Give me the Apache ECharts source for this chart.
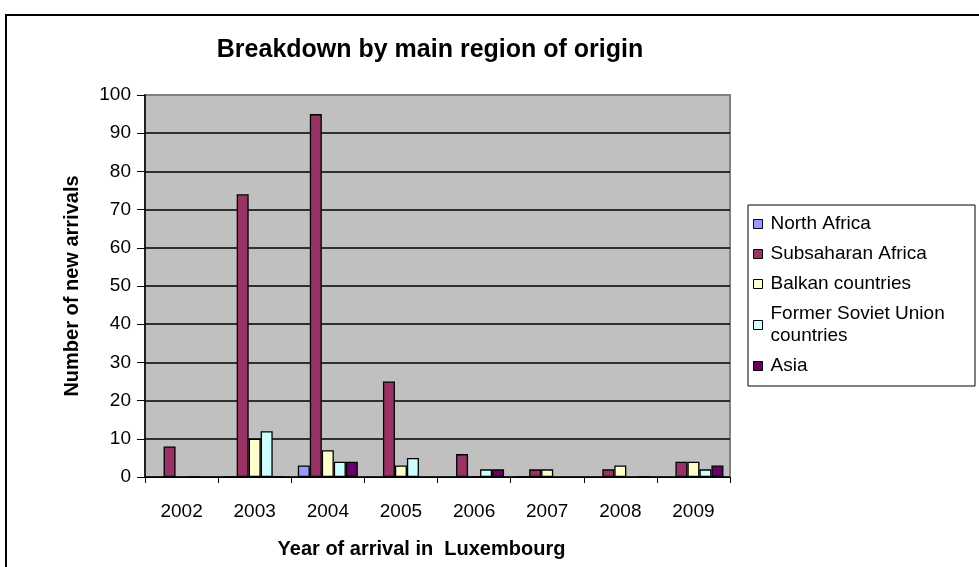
<!DOCTYPE html>
<html>
<head>
<meta charset="utf-8">
<script src="https://cdn.jsdelivr.net/npm/echarts@6/dist/echarts.min.js"></script>
<style>
  html, body { margin: 0; padding: 0; background: #fff; }
  #chart { width: 979px; height: 567px; }
</style>
</head>
<body>
<div id="chart"></div>
<script>
// years on the x axis
var years = ['2002', '2003', '2004', '2005', '2006', '2007', '2008', '2009'];
// null = no bar, 0 = flat bar (drawn as a line)
var northAfrica   = [null, 0, 3, null, null, 0, null, null];
var subsaharan    = [8, 74, 95, 25, 6, 2, 2, 4];
var balkan        = [null, 10, 7, 3, 0, 2, 3, 4];
var formerSoviet  = [0, 12, 4, 5, 2, null, null, 2];
var asia          = [null, 0, 4, null, 2, null, 0, 3];

var seriesNames = ['North Africa', 'Subsaharan Africa', 'Balkan countries', 'Former Soviet Union\ncountries', 'Asia'];
var seriesData = [northAfrica, subsaharan, balkan, formerSoviet, asia];
var colors = ['#9999FF', '#993366', '#FFFFCC', '#CCFFFF', '#660066'];

var font = 'Arial, "Liberation Sans", sans-serif';

var chart = echarts.init(document.getElementById('chart'));

var series = seriesNames.map(function (name, i) {
  return {
    name: name,
    type: 'bar',
    barWidth: 12,
    barGap: '0%',
    z: 5,
    data: seriesData[i],
    itemStyle: { color: colors[i], borderColor: '#000', borderWidth: 1.3 }
  };
});

// gridlines black, top one grey like the plot border
var gridColors = [];
for (var k = 0; k < 10; k++) gridColors.push('#000');
gridColors.push('#808080');

chart.setOption({
  animation: false,
  color: colors,
  textStyle: { fontFamily: font },
  title: {
    text: 'Breakdown by main region of origin',
    left: 425,
    textAlign: 'center',
    top: 33,
    textStyle: { fontSize: 25, fontWeight: 'bold', color: '#000', fontFamily: font }
  },
  graphic: [
    { type: 'rect', shape: { x: 6, y: 15, width: 1000, height: 600 },
      style: { fill: 'none', stroke: '#000', lineWidth: 2 }, z: 100 },
    { type: 'rect', shape: { x: 748, y: 205, width: 227, height: 181 },
      style: { fill: '#fff', stroke: '#000', lineWidth: 1 }, z: 0 }
  ],
  legend: {
    orient: 'vertical',
    left: 748,
    top: 205,
    padding: [8, 15, 9, 5],
    itemGap: 8,
    itemWidth: 9,
    itemHeight: 9,
    icon: 'rect',
    itemStyle: { borderColor: '#000', borderWidth: 1 },
    textStyle: { fontSize: 19, lineHeight: 22, color: '#000', padding: [0, 0, 0, 3], fontFamily: font },
    data: seriesNames
  },
  grid: {
    left: 145, right: 249, top: 95, bottom: 90,
    show: true,
    backgroundColor: '#C0C0C0',
    borderColor: '#808080',
    borderWidth: 2
  },
  xAxis: {
    type: 'category',
    data: years,
    name: 'Year of arrival in  Luxembourg',
    nameLocation: 'middle',
    nameGap: 62,
    nameTextStyle: { fontSize: 20, fontWeight: 'bold', color: '#000', padding: [0, 32, 0, 0], fontFamily: font },
    axisLine: { lineStyle: { color: '#000', width: 1 } },
    axisTick: { show: true, length: 6, lineStyle: { color: '#000' } },
    axisLabel: { fontSize: 19, color: '#000', margin: 25, fontFamily: font }
  },
  yAxis: {
    type: 'value',
    min: 0,
    max: 100,
    interval: 10,
    name: 'Number of new arrivals',
    nameLocation: 'middle',
    nameGap: 63,
    nameTextStyle: { fontSize: 20, fontWeight: 'bold', color: '#000', fontFamily: font },
    axisLine: { show: true, lineStyle: { color: '#000', width: 1.5 } },
    axisTick: { show: true, length: 8, lineStyle: { color: '#000' } },
    axisLabel: { fontSize: 19, color: '#000', margin: 14, fontFamily: font },
    splitLine: { show: true, lineStyle: { color: gridColors, width: 1.5 } }
  },
  series: series
});
</script>
</body>
</html>
